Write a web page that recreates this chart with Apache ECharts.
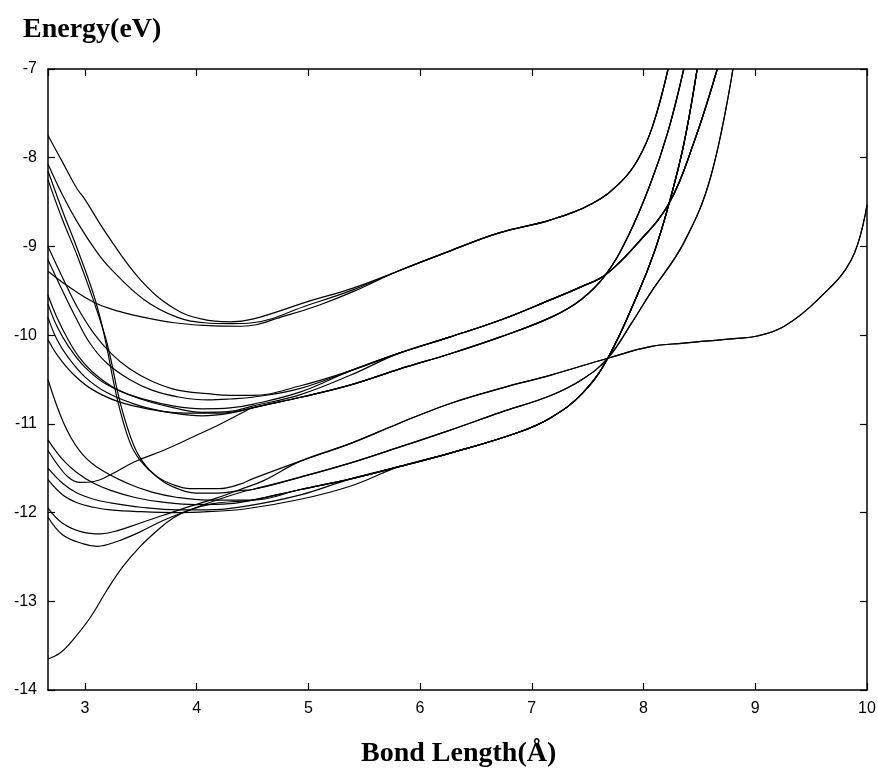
<!DOCTYPE html>
<html><head><meta charset="utf-8">
<script src="https://cdn.jsdelivr.net/npm/echarts@6.0.0/dist/echarts.min.js"></script>
<style>html,body{margin:0;padding:0;background:#fff}#c{width:878px;height:772px}</style>
</head><body><div id="c"></div>
<script>
// ---- axis ranges ----
const xRange = [2.67, 10];
const yRange = [-14, -7];
const xTitle = 'Bond Length(Å)';
const yTitle = 'Energy(eV)';

// ---- shared right-hand paths ----
const pathU  = [[4.5,-9.82],[5.0,-9.62],[5.4,-9.47],[5.8,-9.28],[6.27,-9.05],[6.7,-8.85],[7.17,-8.70],[7.55,-8.51],[7.8,-8.27],[7.95,-8.02],[8.08,-7.65],[8.22,-7.0]];
const pathMb = [[4.5,-10.68],[4.93,-10.57],[5.38,-10.40],[5.82,-10.2],[6.27,-10.02],[6.72,-9.83],[7.17,-9.60],[7.45,-9.45],[7.66,-9.32],[7.95,-8.96],[8.23,-8.51],[8.45,-7.83],[8.66,-7.0]];
const pathMs = [[4.5,-10.82],[4.93,-10.70],[5.38,-10.56],[5.82,-10.38],[6.27,-10.21],[6.72,-10.02],[7.17,-9.80],[7.44,-9.60],[7.66,-9.32],[7.86,-8.89],[8.06,-8.3],[8.22,-7.7],[8.36,-7.0]];
const pathPt = [[4.5,-11.62],[4.93,-11.42],[5.38,-11.22],[5.82,-10.99],[6.27,-10.77],[6.72,-10.6],[7.17,-10.45],[7.68,-10.26],[8.06,-10.13],[8.36,-10.09],[8.81,-10.04],[9.02,-10.01],[9.26,-9.9],[9.56,-9.60],[9.86,-9.15],[10.0,-8.53]];
const pathPm = [[4.5,-11.74],[4.93,-11.6],[5.38,-11.44],[5.82,-11.26],[6.27,-11.07],[6.72,-10.87],[7.17,-10.68],[7.45,-10.5],[7.68,-10.26],[7.9,-9.85],[8.06,-9.53],[8.36,-8.96],[8.6,-8.22],[8.8,-7.0]];
const pathPl = [[4.5,-11.86],[4.93,-11.74],[5.38,-11.62],[5.82,-11.48],[6.27,-11.33],[6.87,-11.1],[7.17,-10.93],[7.45,-10.66],[7.68,-10.26],[7.95,-9.53],[8.1,-9.05],[8.23,-8.51],[8.36,-7.85],[8.48,-7.0]];

// ---- left-hand parts of each curve ----
const U1 = [[2.67,-7.75],[2.8,-8.05],[2.93,-8.35],[3.0,-8.47],[3.2,-8.87],[3.5,-9.38],[3.8,-9.70],[4.05,-9.82],[4.3,-9.85]];
const U2 = [[2.67,-8.07],[2.8,-8.42],[2.93,-8.72],[3.1,-9.05],[3.23,-9.25],[3.53,-9.6],[3.83,-9.8],[4.07,-9.86],[4.3,-9.87],[4.5,-9.86],[5.0,-9.66],[5.4,-9.49]];
const U3 = [[2.67,-9.28],[2.85,-9.45],[3.08,-9.63],[3.3,-9.73],[3.53,-9.80],[3.8,-9.86],[4.07,-9.89],[4.4,-9.9],[4.8,-9.78],[5.1,-9.66],[5.4,-9.51]];
const S1 = [[2.67,-8.15],[2.8,-8.6],[2.93,-9.02],[3.08,-9.55],[3.17,-9.98],[3.29,-10.72],[3.4,-11.2],[3.5,-11.42],[3.65,-11.6],[3.8,-11.69],[3.94,-11.73],[4.2,-11.73],[4.39,-11.68]];
const S2 = [[2.67,-8.25],[2.8,-8.7],[2.93,-9.1],[3.08,-9.62],[3.2,-10.1],[3.32,-10.78],[3.44,-11.25],[3.55,-11.48],[3.7,-11.65],[3.85,-11.74],[4.0,-11.78],[4.2,-11.78],[4.4,-11.75]];
const M1 = [[2.67,-9.0],[2.8,-9.35],[2.93,-9.68],[3.08,-9.98],[3.23,-10.2],[3.4,-10.38],[3.6,-10.52],[3.83,-10.62],[4.1,-10.66],[4.3,-10.68]];
const M2 = [[2.67,-9.15],[2.8,-9.5],[2.93,-9.83],[3.05,-10.1],[3.2,-10.32],[3.4,-10.5],[3.6,-10.62],[3.85,-10.7],[4.1,-10.73],[4.3,-10.72],[4.5,-10.7],[4.93,-10.6]];
const M3 = [[2.67,-9.55],[2.75,-9.8],[2.85,-10.05],[2.95,-10.25],[3.1,-10.45],[3.3,-10.62],[3.55,-10.73],[3.8,-10.8],[4.05,-10.83],[4.3,-10.82],[4.5,-10.78],[4.93,-10.64]];
const M4 = [[2.67,-9.65],[2.75,-9.9],[2.85,-10.12],[3.0,-10.36],[3.2,-10.56],[3.5,-10.72],[3.8,-10.82],[4.05,-10.87],[4.3,-10.86],[4.5,-10.8],[4.93,-10.67],[5.38,-10.45]];
const M5 = [[2.67,-9.8],[2.75,-10.05],[2.85,-10.25],[3.0,-10.47],[3.2,-10.65],[3.5,-10.8],[3.8,-10.88],[4.05,-10.91],[4.3,-10.88]];
const M6 = [[2.67,-10.05],[2.75,-10.22],[2.88,-10.42],[3.05,-10.6],[3.3,-10.75],[3.6,-10.84],[3.9,-10.88],[4.2,-10.88],[4.4,-10.85]];
const Lr = [[2.67,-11.3],[2.75,-11.45],[2.85,-11.6],[2.95,-11.66],[3.08,-11.65],[3.25,-11.56],[3.44,-11.43],[3.7,-11.3],[3.98,-11.14],[4.2,-11.01],[4.43,-10.86]];
const La = [[2.67,-10.5],[2.81,-10.99],[2.95,-11.3],[3.1,-11.48],[3.38,-11.67],[3.6,-11.77],[3.83,-11.83],[4.1,-11.86],[4.35,-11.86]];
const Lb = [[2.67,-11.18],[2.8,-11.4],[2.93,-11.55],[3.08,-11.67],[3.23,-11.75],[3.45,-11.83],[3.68,-11.88],[4.0,-11.91],[4.3,-11.9]];
const Lc = [[2.67,-11.5],[2.8,-11.67],[2.93,-11.78],[3.08,-11.85],[3.23,-11.89],[3.5,-11.94],[3.83,-11.97],[4.1,-11.97],[4.43,-11.93],[4.93,-11.8]];
const Ld = [[2.67,-11.63],[2.8,-11.8],[2.93,-11.89],[3.08,-11.94],[3.23,-11.97],[3.5,-11.99],[3.83,-12.0],[4.1,-11.99],[4.43,-11.96],[4.93,-11.85],[5.38,-11.7]];
const Le = [[2.67,-11.95],[2.8,-12.12],[2.98,-12.22],[3.14,-12.24],[3.3,-12.2],[3.49,-12.12],[3.7,-12.03],[3.94,-11.93],[4.17,-11.84],[4.39,-11.74],[4.6,-11.64]];
const Lf = [[2.67,-12.05],[2.8,-12.25],[2.98,-12.35],[3.11,-12.38],[3.3,-12.32],[3.49,-12.22],[3.7,-12.09],[3.94,-11.97],[4.2,-11.85],[4.43,-11.76]];
const Ldeep = [[2.67,-13.65],[2.78,-13.58],[2.89,-13.44],[3.05,-13.18],[3.2,-12.87],[3.34,-12.61],[3.49,-12.39],[3.65,-12.2],[3.79,-12.06],[3.94,-11.97],[4.15,-11.9],[4.4,-11.87]];

function join(left, path) {
  const lastX = left[left.length - 1][0];
  return left.concat(path.filter(p => p[0] > lastX + 0.05));
}

const curves = [
  join(U1, pathU), join(U2, pathU), join(U3, pathU),
  join(S1, pathPt), join(Le, pathPt),
  join(S2, pathPm), join(Lf, pathPm),
  join(M1, pathMb), join(M2, pathMb), join(M3, pathMb), join(M4, pathMb),
  join(M5, pathMs), join(M6, pathMs), join(Lr, pathMs),
  join(La, pathPl), join(Lb, pathPl), join(Lc, pathPl), join(Ld, pathPl), join(Ldeep, pathPl)
];

const chart = echarts.init(document.getElementById('c'), null, {renderer: 'canvas'});
const axisLine = {show: true, lineStyle: {color: '#000', width: 1.5}};
const tick = {show: true, inside: true, length: 7, lineStyle: {color: '#000', width: 1.2}};
const lab = {color: '#000', fontSize: 16, fontFamily: '"Liberation Sans", Arial, sans-serif'};

chart.setOption({
  animation: false,
  backgroundColor: '#fff',
  grid: {left: 48, right: 11, top: 69, bottom: 82, outerBoundsMode: 'none'},
  xAxis: [
    {type: 'value', position: 'bottom', min: xRange[0], max: xRange[1], splitNumber: 7,
     axisLine: axisLine, axisTick: tick, splitLine: {show: false},
     axisLabel: Object.assign({margin: 11, showMinLabel: false}, lab)},
    {type: 'value', position: 'top', min: xRange[0], max: xRange[1], splitNumber: 7,
     axisLine: axisLine, axisTick: tick, splitLine: {show: false}, axisLabel: {show: false}}
  ],
  yAxis: [
    {type: 'value', position: 'left', min: yRange[0], max: yRange[1], interval: 1,
     axisLine: axisLine, axisTick: tick, splitLine: {show: false},
     axisLabel: Object.assign({margin: 11}, lab)},
    {type: 'value', position: 'right', min: yRange[0], max: yRange[1], interval: 1,
     axisLine: axisLine, axisTick: tick, splitLine: {show: false}, axisLabel: {show: false}}
  ],
  graphic: [
    {type: 'text', left: 23, top: 16, style: {text: yTitle, fontSize: 28, fontWeight: 'bold', fontFamily: '"Liberation Serif", "Times New Roman", serif', fill: '#000'}},
    {type: 'text', left: 361, top: 740, style: {text: xTitle, fontSize: 28, fontWeight: 'bold', fontFamily: '"Liberation Serif", "Times New Roman", serif', fill: '#000'}}
  ],
  series: curves.map(d => ({
    type: 'line', data: d, xAxisIndex: 0, yAxisIndex: 0,
    showSymbol: false, symbol: 'none', smooth: 0.4,
    lineStyle: {color: '#000', width: 1.2}, silent: true, clip: true
  }))
});
</script></body></html>
